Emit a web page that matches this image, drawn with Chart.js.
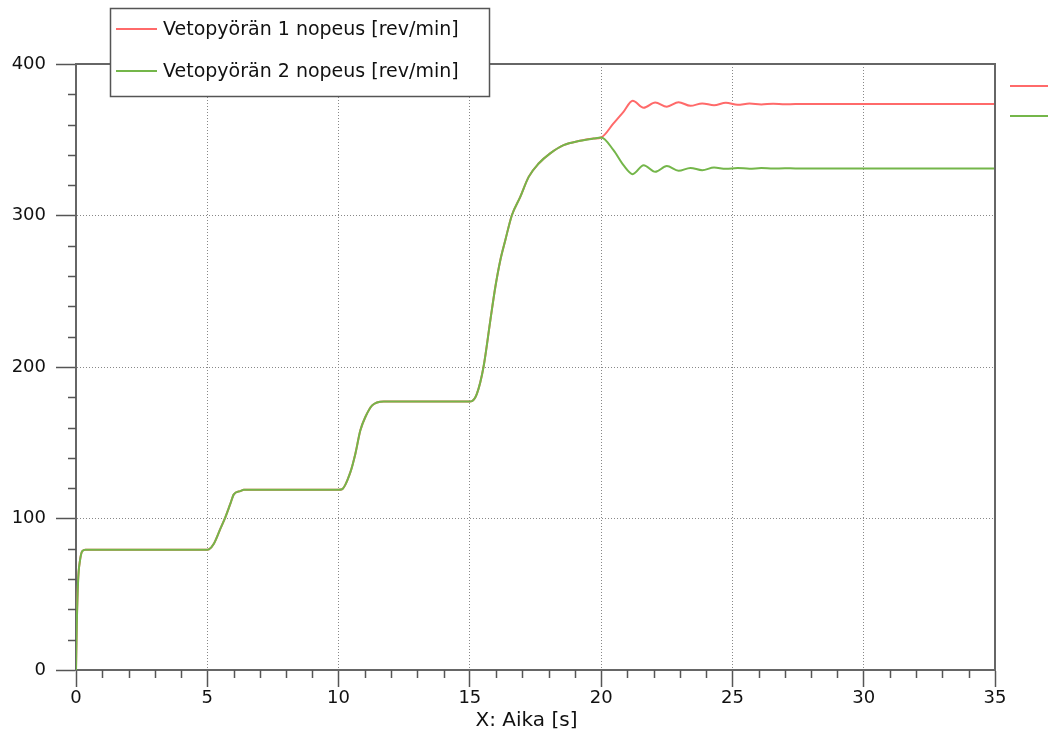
<!DOCTYPE html>
<html>
<head>
<meta charset="utf-8">
<script src="https://cdn.jsdelivr.net/npm/chart.js@4.4.1/dist/chart.umd.min.js"></script>
<style>
  html, body { margin: 0; padding: 0; background: #fff; }
  #wrap { width: 1049px; height: 738px; }
</style>
</head>
<body>
<div id="wrap"><canvas id="speedChart" width="1049" height="738"></canvas></div>
<script>
// Time axis [s]
const time = [0, 0.03, 0.08, 0.15, 0.24, 0.36,
    5.0, 5.06, 5.25, 5.5, 5.69, 5.88, 6.01, 6.26, 6.39,
    10.0, 10.13, 10.45, 10.64, 10.83, 11.02, 11.28, 11.72,
    15.0, 15.08, 15.27, 15.52, 15.78, 15.97, 16.16, 16.35, 16.6, 16.92, 17.24, 17.62, 18.06, 18.57, 19.2, 19.71, 20.0,
    20.47, 20.85, 21.2, 21.62, 22.06, 22.5, 22.95, 23.4, 23.85, 24.3, 24.75, 25.2, 25.65, 26.1, 26.55, 27.0, 27.4, 35];

// both wheels run together until t = 20 s
const commonSpeed = [0, 30, 59, 72, 78.5, 79.4,
    79.4, 79.6, 83.4, 93.3, 100.9, 109.8, 115.9, 118.1, 119.0,
    119.0, 119.3, 130.6, 142.8, 158.2, 167, 174.7, 177.3,
    177.3, 177.5, 182.4, 200, 230.8, 252.8, 270.5, 283.7, 300.2, 312.3, 325.5, 334.3, 341, 346.4, 349.3, 350.8, 351.5];

const wheel1After = [360.8, 368.4, 375.7, 371.1, 374.6, 371.8, 374.8, 372.4, 374.0, 372.8, 374.4, 373.1, 373.9, 373.3, 373.8, 373.4, 373.6, 373.6];
const wheel2After = [343.1, 333.2, 327.3, 333.2, 328.8, 332.6, 329.5, 331.4, 329.9, 331.7, 330.8, 331.4, 330.9, 331.3, 331.0, 331.2, 331.1, 331.1];

const wheel1 = commonSpeed.concat(wheel1After);
const wheel2 = commonSpeed.concat(wheel2After);

const seriesLabels = ['Vetopyörän 1 nopeus [rev/min]', 'Vetopyörän 2 nopeus [rev/min]'];
const seriesColors = ['#ff6a6a', '#74b64a'];
const xTitle = 'X: Aika [s]';

const FONT = 'DejaVu Sans';

function toPoints(ys) {
    return ys.map((y, i) => ({ x: time[i], y: y }));
}

// minor ticks, plot frame, legend box and side markers
const decorations = {
    id: 'decorations',
    afterDraw(chart) {
        const ctx = chart.ctx;
        const xs = chart.scales.x, ys = chart.scales.y;
        const a = chart.chartArea;
        ctx.save();
        ctx.strokeStyle = '#555';
        ctx.lineWidth = 1.5;
        // minor ticks
        ctx.beginPath();
        for (let v = 1; v < 35; v++) {
            if (v % 5 === 0) continue;
            const px = Math.round(xs.getPixelForValue(v)) + 0.5;
            ctx.moveTo(px, a.bottom);
            ctx.lineTo(px, a.bottom + 8);
        }
        for (let v = 20; v < 400; v += 20) {
            if (v % 100 === 0) continue;
            const py = Math.round(ys.getPixelForValue(v)) + 0.5;
            ctx.moveTo(a.left, py);
            ctx.lineTo(a.left - 8, py);
        }
        ctx.stroke();

        // frame top / right
        ctx.strokeStyle = '#666';
        ctx.lineWidth = 2;
        ctx.beginPath();
        ctx.moveTo(a.left, a.top);
        ctx.lineTo(a.right, a.top);
        ctx.lineTo(a.right, a.bottom);
        ctx.stroke();

        // legend box
        ctx.fillStyle = '#fff';
        ctx.fillRect(110, 8, 380, 89);
        ctx.strokeStyle = '#555';
        ctx.lineWidth = 1.5;
        ctx.strokeRect(110.5, 8.5, 379, 88);
        ctx.font = '19px ' + FONT;
        ctx.textBaseline = 'middle';
        ctx.textAlign = 'left';
        const rows = [29, 71];
        seriesLabels.forEach((lab, i) => {
            ctx.strokeStyle = seriesColors[i];
            ctx.lineWidth = 2;
            ctx.beginPath();
            ctx.moveTo(116, rows[i]);
            ctx.lineTo(157, rows[i]);
            ctx.stroke();
            ctx.fillStyle = '#111';
            ctx.fillText(lab, 163, rows[i] + 1);
        });

        // markers to the right of the plot
        const side = [86, 116];
        side.forEach((y, i) => {
            ctx.strokeStyle = seriesColors[i];
            ctx.lineWidth = 2;
            ctx.beginPath();
            ctx.moveTo(1010, y);
            ctx.lineTo(1048, y);
            ctx.stroke();
        });

        // x axis title
        ctx.font = '20px ' + FONT;
        ctx.fillStyle = '#111';
        ctx.textAlign = 'center';
        ctx.fillText(xTitle, chart.width / 2 + 2, 721);
        ctx.restore();
    }
};

const ctx = document.getElementById('speedChart').getContext('2d');
const speedChart = new Chart(ctx, {
    type: 'line',
    data: {
        datasets: [{
            label: seriesLabels[0],
            data: toPoints(wheel1),
            borderColor: seriesColors[0],
            borderWidth: 2,
            pointRadius: 0,
            cubicInterpolationMode: 'monotone',
            order: 2
        }, {
            label: seriesLabels[1],
            data: toPoints(wheel2),
            borderColor: seriesColors[1],
            borderWidth: 2,
            pointRadius: 0,
            cubicInterpolationMode: 'monotone',
            order: 1
        }]
    },
    options: {
        responsive: false,
        animation: false,
        events: [],
        layout: { padding: { top: 64, right: 54, left: 0, bottom: 0 } },
        plugins: {
            legend: { display: false },
            tooltip: { enabled: false }
        },
        scales: {
            x: {
                type: 'linear',
                min: 0,
                max: 35,
                afterFit: s => { s.height = 68; },
                ticks: {
                    stepSize: 5,
                    color: '#111',
                    padding: 1,
                    maxRotation: 0,
                    font: { family: FONT, size: 18 }
                },
                grid: {
                    color: '#888',
                    tickColor: '#555',
                    tickLength: 17,
                    tickWidth: 1.5
                },
                border: { color: '#666', width: 2, dash: [1, 2] }
            },
            y: {
                min: 0,
                max: 400,
                afterFit: s => { s.width = 76; },
                ticks: {
                    stepSize: 100,
                    color: '#111',
                    padding: 10,
                    font: { family: FONT, size: 18 }
                },
                grid: {
                    color: '#888',
                    tickColor: '#555',
                    tickLength: 20,
                    tickWidth: 1.5
                },
                border: { color: '#666', width: 2, dash: [1, 2] }
            }
        }
    },
    plugins: [decorations]
});
</script>
</body>
</html>
